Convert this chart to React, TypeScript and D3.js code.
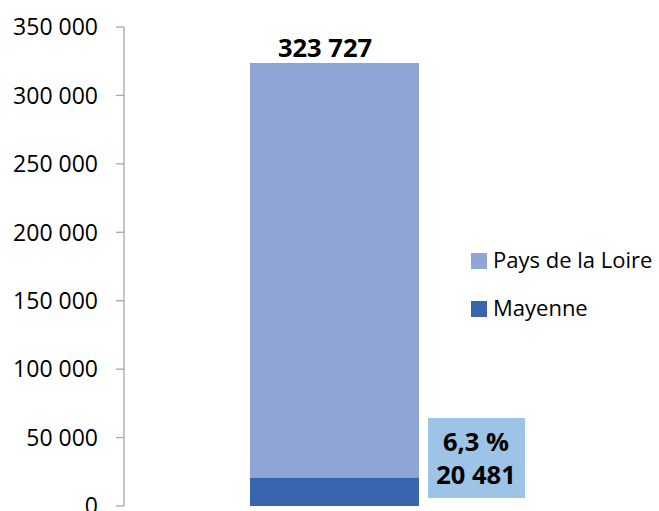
import React from "react";
import * as d3 from "d3";

const categories = ["Total"];
const seriesNames = ["Pays de la Loire", "Mayenne"];
const paysDeLaLoire = [323727];
const mayenne = [20481];
const shareLabels = ["6,3 %"];
const yTicks = [0, 50000, 100000, 150000, 200000, 250000, 300000, 350000];

const W = 659;
const H = 511;
const FONT = "'Open Sans', sans-serif";
const colors = ["#8FA5D5", "#3A64AD"];

const fmt = (v: number) =>
  d3.format(",")(v).replace(/,/g, " ");

export default function App() {
  const y = d3.scaleLinear().domain([0, 350000]).range([506, 27]);
  const bw = 169;
  const bx = 250;

  return (
    <svg
      width={W}
      height={H}
      style={{ position: "absolute", left: 0, top: 0, background: "#fff" }}
      fontFamily={FONT}
    >
      {/* y axis */}
      <line x1={124} x2={124} y1={y(350000)} y2={y(0)} stroke="#A6A6A6" strokeWidth={1.3} />
      {yTicks.map((t) => (
        <g key={t}>
          <line x1={116} x2={124} y1={y(t)} y2={y(t)} stroke="#A6A6A6" strokeWidth={1.3} />
          <text x={98} y={y(t)} dy="0.36em" textAnchor="end" fontSize={23} fill="#000">
            {fmt(t)}
          </text>
        </g>
      ))}
      {categories.map((c, i) => {
        const total = paysDeLaLoire[i];
        const m = mayenne[i];
        return (
          <g key={c}>
            <rect x={bx} width={bw} y={y(total)} height={y(0) - y(total)} fill={colors[0]} />
            <rect x={bx} width={bw} y={y(m)} height={y(0) - y(m)} fill={colors[1]} />
            <text x={325} y={57} textAnchor="middle" fontSize={25.5} fontWeight="bold" fill="#000">
              {fmt(total)}
            </text>
            <rect x={428} y={418} width={97} height={80} fill="#9DC3E6" />
            <text x={476} y={451} textAnchor="middle" fontSize={25.5} fontWeight="bold" fill="#000">
              {shareLabels[i]}
            </text>
            <text x={476} y={484} textAnchor="middle" fontSize={25.5} fontWeight="bold" fill="#000">
              {fmt(m)}
            </text>
          </g>
        );
      })}
      {/* legend */}
      {seriesNames.map((s, i) => (
        <g key={s} transform={`translate(471, ${253 + i * 48})`}>
          <rect x={0} y={0} width={16} height={16} fill={colors[i]} />
          <text x={22} y={15} fontSize={22} fill="#000">
            {s}
          </text>
        </g>
      ))}
    </svg>
  );
}
